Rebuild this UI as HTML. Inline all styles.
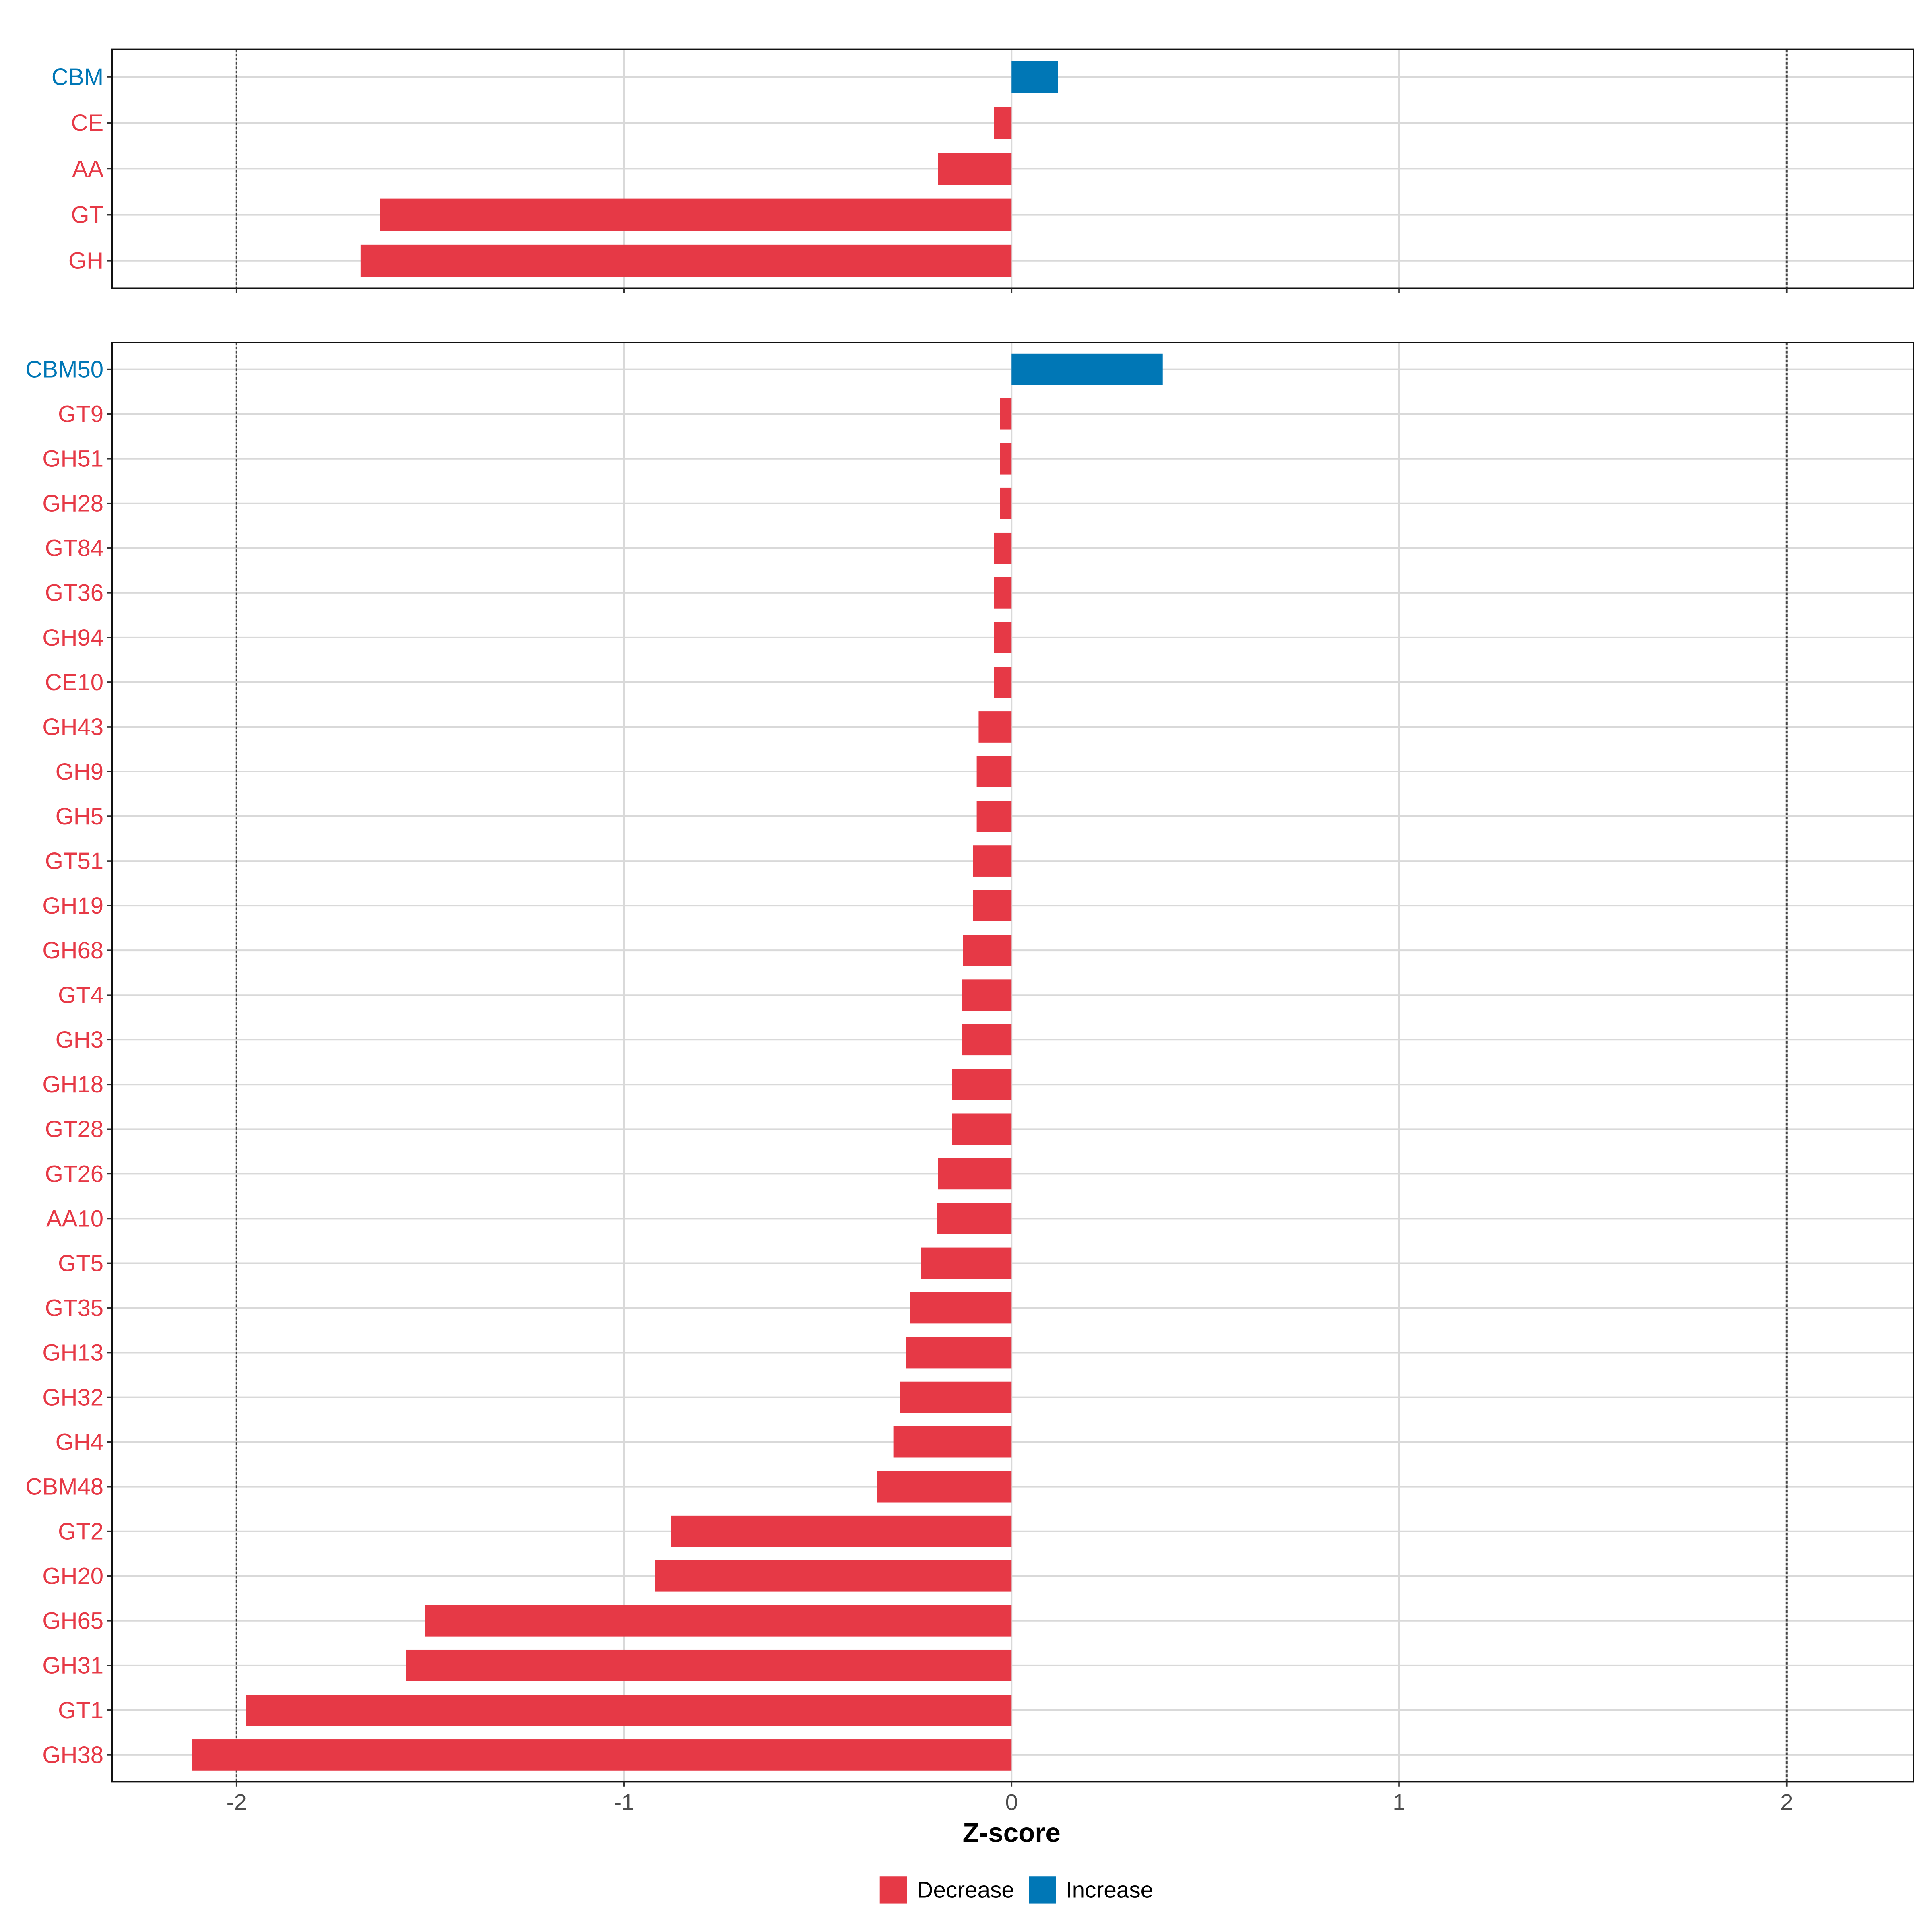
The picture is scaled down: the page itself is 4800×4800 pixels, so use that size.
<!DOCTYPE html>
<html><head><meta charset="utf-8"><style>
html,body{margin:0;padding:0;background:#fff}
svg{display:block}
text{font-family:"Liberation Sans",Arial,sans-serif}
</style></head><body>
<svg id="chart" width="4800" height="4800" viewBox="0 0 1568 1568" xmlns="http://www.w3.org/2000/svg">
<g id="g"></g>
</svg>
<script>
const topCats = ["CBM","CE","AA","GT","GH"];
const topVals = [0.12,-0.045,-0.19,-1.63,-1.68];
const botCats = ["CBM50","GT9","GH51","GH28","GT84","GT36","GH94","CE10","GH43","GH9","GH5","GT51","GH19","GH68","GT4","GH3","GH18","GT28","GT26","AA10","GT5","GT35","GH13","GH32","GH4","CBM48","GT2","GH20","GH65","GH31","GT1","GH38"];
const botVals = [0.39,-0.03,-0.03,-0.03,-0.045,-0.045,-0.045,-0.045,-0.085,-0.09,-0.09,-0.1,-0.1,-0.125,-0.128,-0.128,-0.155,-0.155,-0.19,-0.192,-0.233,-0.262,-0.272,-0.287,-0.305,-0.347,-0.88,-0.92,-1.513,-1.563,-1.975,-2.115];
const xTicks = [-2,-1,0,1,2];
const xTickLabels = ["-2","-1","0","1","2"];

const NS="http://www.w3.org/2000/svg";
const g=document.getElementById('g');
const RED="#E63946", BLUE="#0077B6";
function x(v){return 821+v*314.5;}
function mk(t,a,p){const e=document.createElementNS(NS,t);for(const k in a)e.setAttribute(k,a[k]);(p||g).appendChild(e);return e;}

function panel(cats,vals,y0,y1,name,showX){
  const n=cats.length, step=(y1-y0)/(n-1+1.2);
  function y(i){return y0+step*0.6+i*step;}
  const L=91,R=1553;
  const grp=mk('g',{});
  
  
  xTicks.forEach((t,i)=>{
    const gl=mk('line',{x1:x(t),x2:x(t),y1:y0,y2:y1,stroke:'#d9d9d9','stroke-width':1.3},grp);
    
    
  });
  cats.forEach((c,i)=>{
    const hl=mk('line',{x1:L,x2:R,y1:y(i),y2:y(i),stroke:'#d9d9d9','stroke-width':1.3},grp);
    
    
  });
  [-2,2].forEach(t=>{
    const dl=mk('line',{x1:x(t),x2:x(t),y1:y0,y2:y1,stroke:'#444','stroke-width':1.3,'stroke-dasharray':'2,1.5'},grp);
    
    
  });
  const bh=step*0.7;
  cats.forEach((c,i)=>{
    const v=vals[i], col=v>=0?BLUE:RED;
    const b=mk('rect',{x:Math.min(x(0),x(v)),y:y(i)-bh/2,width:Math.abs(x(v)-x(0)),height:bh,fill:col},grp);
    
    
    const tk=mk('line',{x1:L-4,x2:L,y1:y(i),y2:y(i),stroke:'#333','stroke-width':1.2},grp);
    
    
    const tx=mk('text',{x:L-7,y:y(i)+6.5,'text-anchor':'end','font-size':19,fill:col},grp);
    tx.textContent=c;
    
    
  });
  const fr=mk('rect',{x:L,y:y0,width:R-L,height:y1-y0,fill:'none',stroke:'#111','stroke-width':1.2},grp);
  
  
  xTicks.forEach((t,i)=>{
    const tk=mk('line',{x1:x(t),x2:x(t),y1:y1,y2:y1+4,stroke:'#333','stroke-width':1.2},grp);
    
    
    if(showX){
      const tl=mk('text',{x:x(t),y:y1+23,'text-anchor':'middle','font-size':18.5,fill:'#4d4d4d'},grp);
      tl.textContent=xTickLabels[i];
      
      
    }
  });
}
panel(topCats,topVals,40,234,'top-panel',false);
panel(botCats,botVals,278,1446,'bottom-panel',true);

const title=mk('text',{x:821,y:1495,'text-anchor':'middle','font-size':22,'font-weight':'bold',fill:'#000'});
title.textContent='Z-score';



const leg=[["Decrease",RED,714],["Increase",BLUE,835]];
leg.forEach(l=>{
  const s=mk('rect',{x:l[2],y:1523,width:22,height:22,fill:l[1]});
  
  
  const t=mk('text',{x:l[2]+30,y:1540,'font-size':18.5,fill:'#000'});
  t.textContent=l[0];
  
  
});
</script>
</body></html>
